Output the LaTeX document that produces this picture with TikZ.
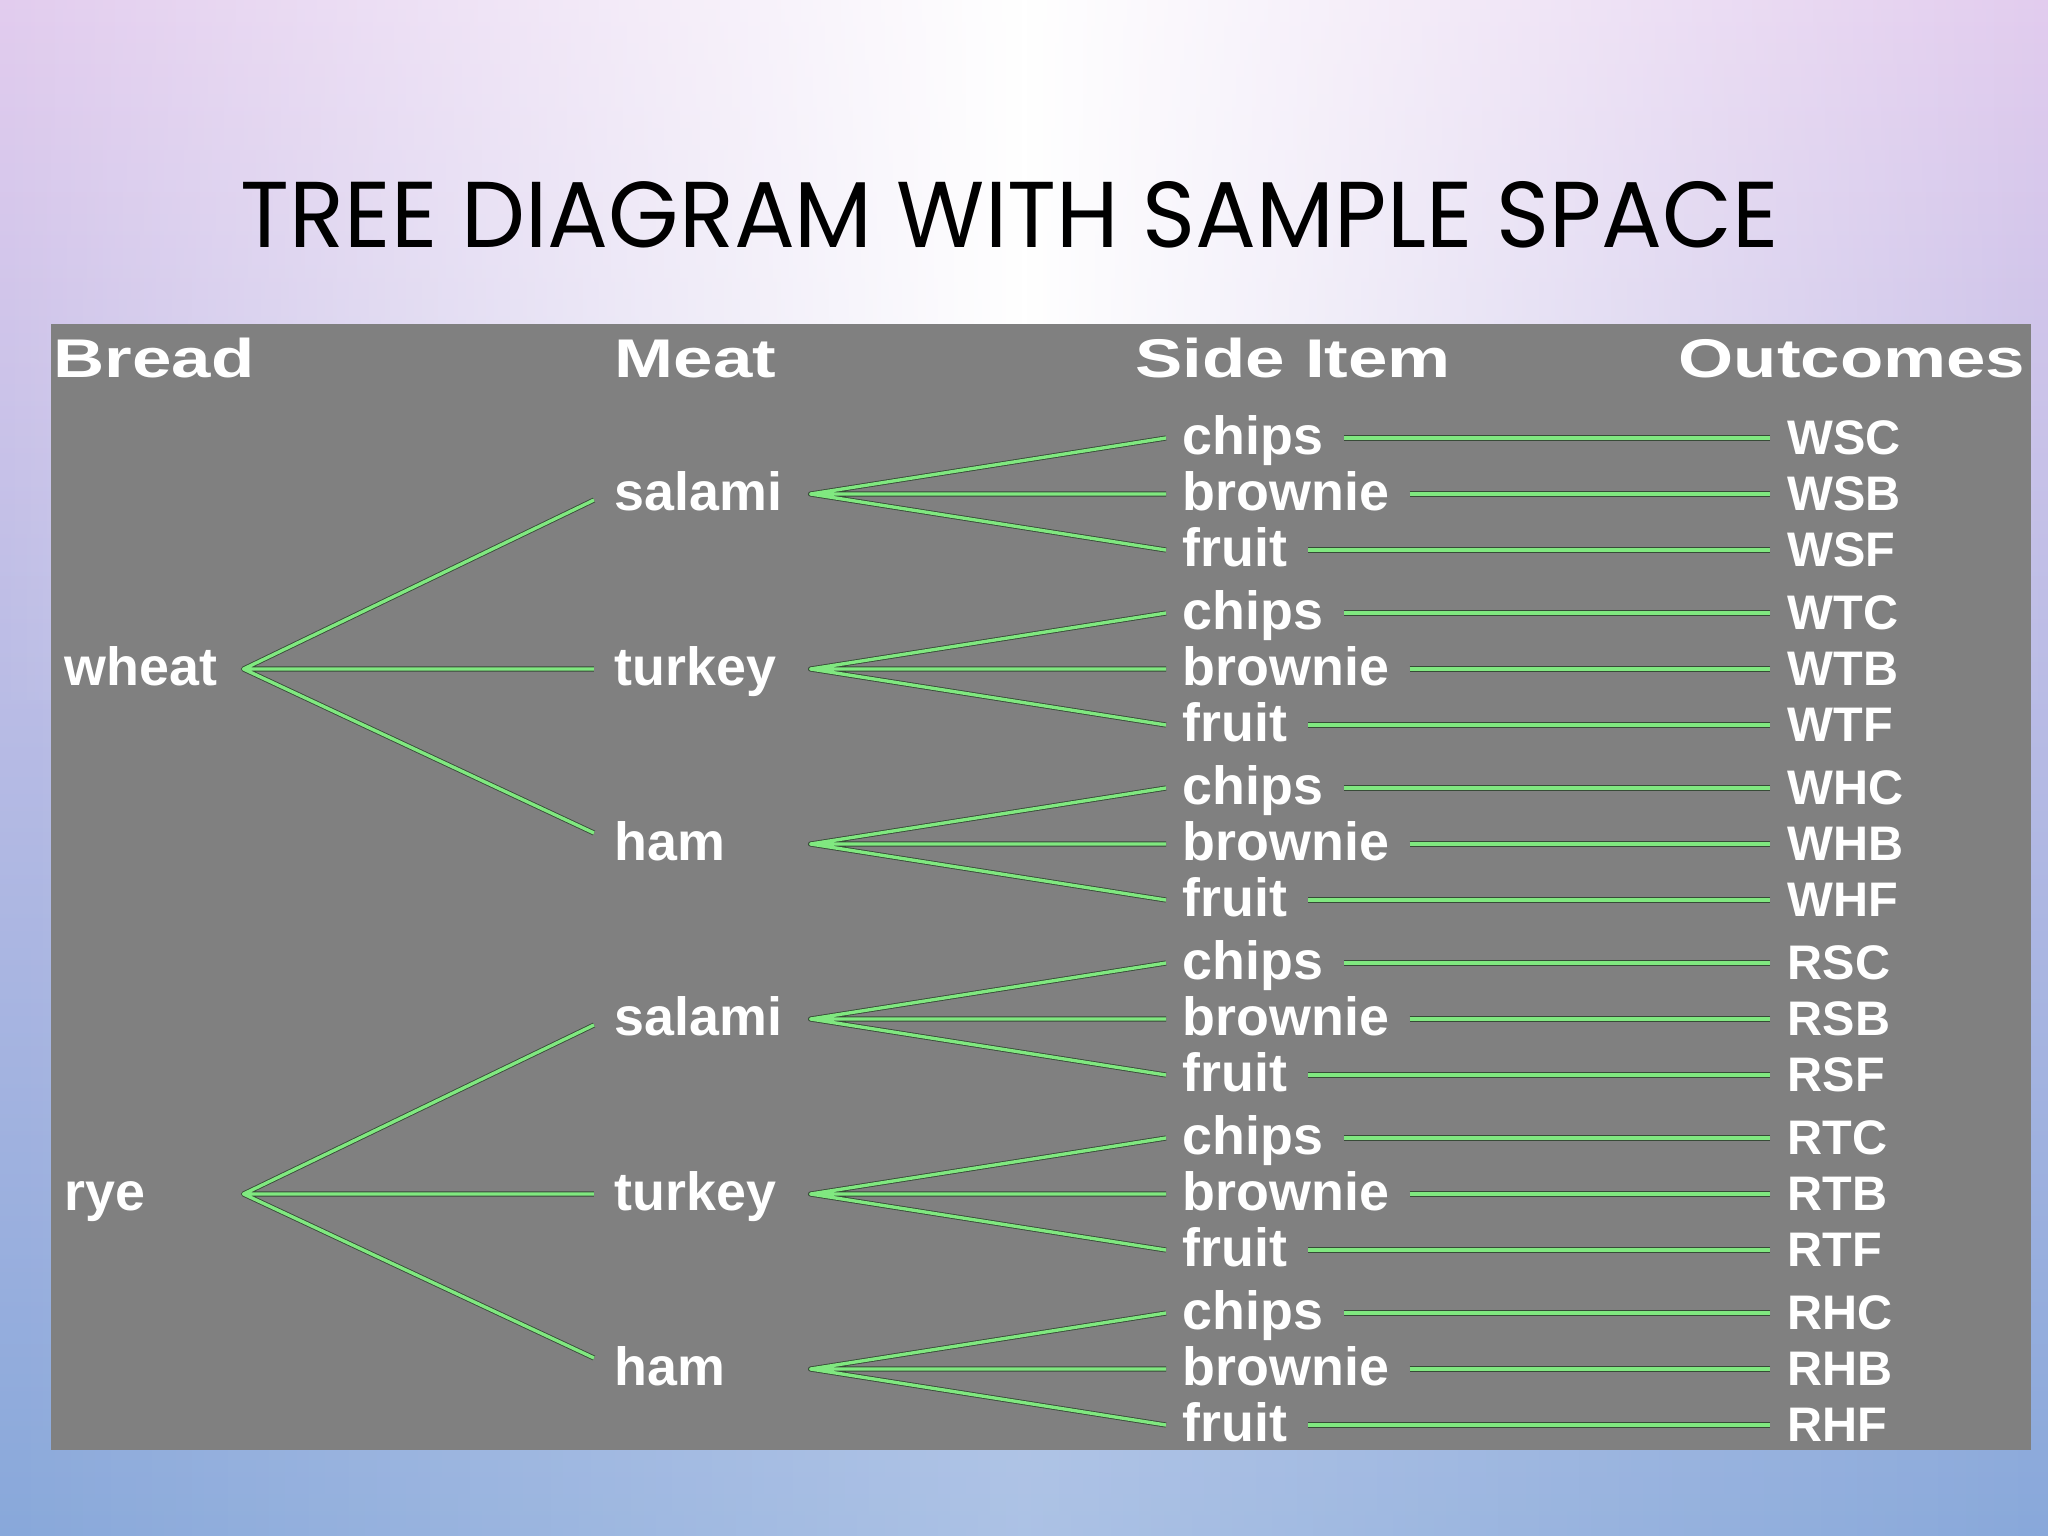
\documentclass[tikz,border=0pt]{standalone}
\usepackage{fontspec}
\usepackage{graphicx}
\usetikzlibrary{fadings}
\setmainfont{Liberation Sans}
\newfontfamily\labfont{Liberation Sans}
\newfontfamily\headfont{Liberation Sans}[FakeStretch=1.3]
\newfontfamily\outfont{Liberation Sans}
\newfontfamily\titlefont{Poppins}
\definecolor{bgTop}{RGB}{226,204,238}
\definecolor{bgMid}{RGB}{198,196,234}
\definecolor{bgBot}{RGB}{136,168,218}
\definecolor{panelgray}{RGB}{128,128,128}
\definecolor{lgreen}{RGB}{128,232,128}
\definecolor{ldark}{RGB}{55,75,55}
\tikzfading[name=hglow, left color=transparent!100, right color=transparent!100, middle color=transparent!0]
\tikzset{
  lab/.style={anchor=west, inner sep=0pt, text=white, text height=0.4cm, text depth=0.08cm,
    font={\labfont\bfseries\fontsize{15.3pt}{18pt}\selectfont}},
  breadlab/.style={lab, text width=1.78cm, align=left},
  meatlab/.style={lab, text width=1.95cm, align=left},
  outlab/.style={anchor=west, inner sep=0pt, text=white, text height=0.4cm, text depth=0.08cm,
    font={\outfont\bfseries\fontsize{13.8pt}{16pt}\selectfont}},
  headlab/.style={anchor=base west, inner sep=0pt, text=white,
    font={\headfont\bfseries\fontsize{15.5pt}{18pt}\selectfont}},
  conn/.style={draw=ldark, line width=0.25pt, double=lgreen, double distance=0.95pt, line join=round}
}
\begin{document}
\begin{tikzpicture}[x=0.01cm,y=-0.01cm]
\useasboundingbox (0,0) rectangle (2048,1536);
% background
\shade[top color=bgTop, middle color=bgMid, bottom color=bgBot] (0,0) rectangle (2048,1536);
\fill[white, path fading=hglow] (0,0) rectangle (2048,700);
\fill[white, path fading=hglow, fill opacity=0.3] (0,700) rectangle (2048,1536);
% title
\node[anchor=base, inner sep=0pt] (title) at (1010,247)
  {\resizebox{15.37cm}{0.66cm}{\titlefont TREE DIAGRAM WITH SAMPLE SPACE}};
% panel
\fill[panelgray] (51,324) rectangle (2031,1450);
% headers
\node[headlab] (hbread) at (53,377) {Bread};
\node[headlab] (hmeat) at (614,377) {Meat};
\node[headlab] (hside) at (1135,377) {Side Item};
\node[headlab] (hout) at (1678,377) {Outcomes};
% bread
\node[breadlab] (wheat) at (64,669) {wheat};
\node[breadlab] (rye) at (64,1194) {rye};
% meat, sides, outcomes
\foreach \g/\mt/\bl/\ml in {0/salami/W/S,1/turkey/W/T,2/ham/W/H,3/salami/R/S,4/turkey/R/T,5/ham/R/H}{
  \pgfmathsetmacro\my{494+175*\g}
  \node[meatlab] (m\g) at (614,\my) {\mt};
  \node[lab] (sa\g) at (1182,{\my-56}) {chips};
  \node[lab] (sb\g) at (1182,\my) {brownie};
  \node[lab] (sc\g) at (1182,{\my+56}) {fruit};
  \node[outlab] (oa\g) at (1787,{\my-56}) {\bl\ml C};
  \node[outlab] (ob\g) at (1787,\my) {\bl\ml B};
  \node[outlab] (oc\g) at (1787,{\my+56}) {\bl\ml F};
  \draw[conn] ([xshift=-0.16cm]sa\g.west) -- (m\g.east) -- ([xshift=-0.16cm]sc\g.west)
              (m\g.east) -- ([xshift=-0.16cm]sb\g.west);
  \draw[conn] ([xshift=0.2cm]sa\g.east) -- ([xshift=-0.17cm]oa\g.west);
  \draw[conn] ([xshift=0.2cm]sb\g.east) -- ([xshift=-0.17cm]ob\g.west);
  \draw[conn] ([xshift=0.2cm]sc\g.east) -- ([xshift=-0.17cm]oc\g.west);
}
% bread to meat
\draw[conn] ([shift={(-20,6)}]m0.west) -- (wheat.east) -- ([shift={(-20,-11)}]m2.west)
            (wheat.east) -- ([xshift=-0.2cm]m1.west);
\draw[conn] ([shift={(-20,6)}]m3.west) -- (rye.east) -- ([shift={(-20,-11)}]m5.west)
            (rye.east) -- ([xshift=-0.2cm]m4.west);
\end{tikzpicture}
\end{document}
